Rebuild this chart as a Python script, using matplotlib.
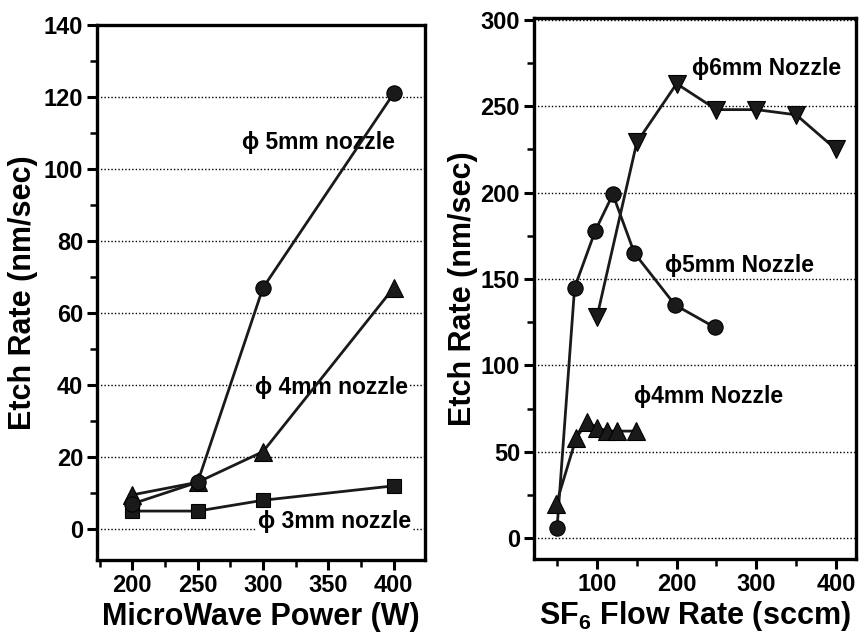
import matplotlib

matplotlib.use("Agg")
import matplotlib.pyplot as plt
from matplotlib.ticker import MultipleLocator

# left panel: etch rate vs microwave power
power = [200, 250, 300, 400]
rate_5mm = [7, 13, 67, 121]
rate_4mm = [9.5, 13, 21.5, 67]
rate_3mm = [5, 5, 8, 12]

# right panel: etch rate vs SF6 flow
flow_6mm = [100, 150, 200, 250, 300, 350, 400]
rate6_6mm = [128, 229, 263, 248, 248, 245, 225]
flow_5mm = [50, 72, 98, 120, 147, 198, 248]
rate6_5mm = [6, 145, 178, 199, 165, 135, 122]
flow_4mm = [49, 74, 88, 100, 113, 125, 149]
rate6_4mm = [20, 58, 67.5, 64, 62, 62, 62]

INK = "#1a1a1a"
FONT = "Liberation Sans"

plt.rcParams["font.family"] = [FONT, "DejaVu Sans"]
plt.rcParams["font.weight"] = "bold"
plt.rcParams["mathtext.fontset"] = "custom"
plt.rcParams["mathtext.rm"] = f"{FONT}:bold"
plt.rcParams["mathtext.it"] = f"{FONT}:bold"
plt.rcParams["mathtext.bf"] = f"{FONT}:bold"


def style(ax, ymaj, ymin, xmaj, xmin):
    for s in ax.spines.values():
        s.set_linewidth(2.4)
        s.set_color("k")
    ax.yaxis.set_major_locator(MultipleLocator(ymaj))
    ax.yaxis.set_minor_locator(MultipleLocator(ymin))
    ax.xaxis.set_major_locator(MultipleLocator(xmaj))
    ax.xaxis.set_minor_locator(MultipleLocator(xmin))
    ax.tick_params(which="major", direction="out", length=7, width=2.2, labelsize=17, pad=3)
    ax.tick_params(which="minor", direction="out", length=5, width=1.8)
    ax.tick_params(top=False, right=False, which="both")
    ax.yaxis.grid(True, which="major", linestyle=(0, (1, 1.5)), linewidth=1.0, color="k")
    ax.set_axisbelow(True)


def note(ax, x, y, s):
    ax.text(x, y, s, fontsize=16.5, fontweight="bold", va="center", ha="left",
            bbox=dict(facecolor="white", edgecolor="none", pad=1.0), zorder=3)


fig = plt.figure(figsize=(8.64, 6.44), dpi=100)
ax1 = fig.add_axes([0.1123, 0.1304, 0.3796, 0.8307])
ax2 = fig.add_axes([0.618, 0.132, 0.3727, 0.840])

line_kw = dict(color=INK, linewidth=2.0, markeredgecolor="k", markeredgewidth=0.8, zorder=4)

ax1.plot(power, rate_3mm, marker="s", markersize=10, **line_kw)
ax1.plot(power, rate_4mm, marker="^", markersize=13, **line_kw)
ax1.plot(power, rate_5mm, marker="o", markersize=11, **line_kw)
style(ax1, 20, 10, 50, 25)
ax1.set_xlim(173, 424)
ax1.set_ylim(-8.6, 140)
ax1.set_xticks([200, 250, 300, 350, 400])
ax1.set_xlabel("MicroWave Power (W)", fontsize=22, fontweight="bold", labelpad=4)
ax1.set_ylabel("Etch Rate (nm/sec)", fontsize=22, fontweight="bold", labelpad=4)
note(ax1, 284, 107.5, "ϕ 5mm nozzle")
note(ax1, 294, 39.4, "ϕ 4mm nozzle")
note(ax1, 296, 2.0, "ϕ 3mm nozzle")

ax2.plot(flow_6mm, rate6_6mm, marker="v", markersize=13, **line_kw)
ax2.plot(flow_5mm, rate6_5mm, marker="o", markersize=11, **line_kw)
ax2.plot(flow_4mm, rate6_4mm, marker="^", markersize=13, **line_kw)
style(ax2, 50, 25, 100, 50)
ax2.set_xlim(21, 425)
ax2.set_ylim(-12, 301)
ax2.set_xticks([100, 200, 300, 400])
ax2.set_xlabel(r"SF$_{\mathbf{6}}$ Flow Rate (sccm)", fontsize=22, fontweight="bold", labelpad=2)
ax2.set_ylabel("Etch Rate (nm/sec)", fontsize=22, fontweight="bold", labelpad=2)
note(ax2, 219, 272, "ϕ6mm Nozzle")
note(ax2, 185, 158, "ϕ5mm Nozzle")
note(ax2, 146, 82, "ϕ4mm Nozzle")

fig.savefig("out.png", dpi=100, facecolor="white")
